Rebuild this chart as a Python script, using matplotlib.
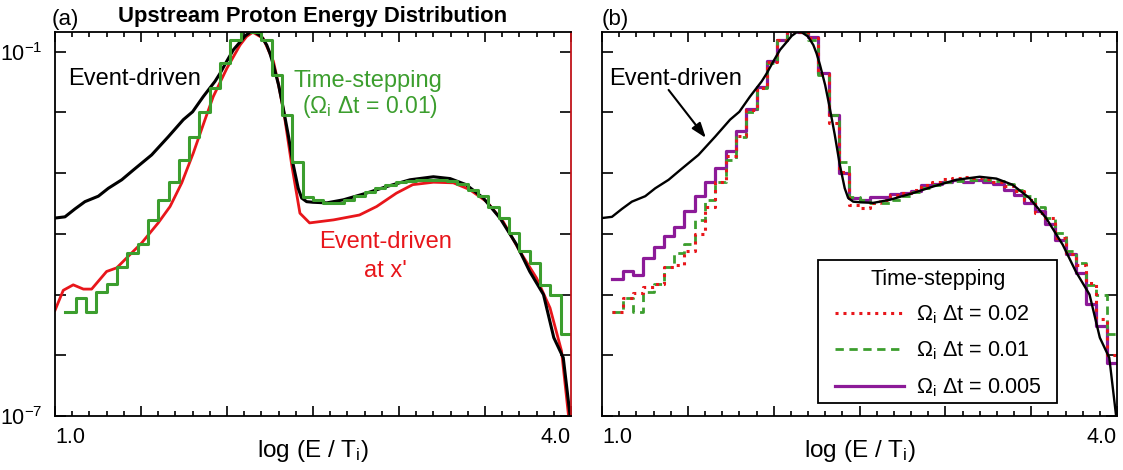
import matplotlib

matplotlib.use("Agg")
import matplotlib.pyplot as plt
import numpy as np
from matplotlib.patches import Rectangle
from matplotlib.ticker import MultipleLocator, NullLocator

plt.rcParams["font.family"] = ["Liberation Sans", "DejaVu Sans"]
plt.rcParams["mathtext.fontset"] = "custom"
plt.rcParams["mathtext.rm"] = "Liberation Sans"
plt.rcParams["mathtext.it"] = "Liberation Sans"
plt.rcParams["mathtext.bf"] = "Liberation Sans:bold"

# event-driven spectrum (black, both panels): log10(E/Ti) and log10(f)
ed_x = [1.0, 1.058, 1.116, 1.174, 1.252, 1.31, 1.388, 1.455, 1.562, 1.659,
        1.746, 1.80, 1.862, 1.90, 1.93, 1.959, 1.998, 2.037, 2.076, 2.105,
        2.134, 2.163, 2.20, 2.231, 2.25, 2.27, 2.30, 2.327, 2.356, 2.385,
        2.414, 2.434, 2.463, 2.50, 2.58, 2.676, 2.81, 2.93, 3.064, 3.20,
        3.297, 3.39, 3.49, 3.587, 3.684, 3.76, 3.84, 3.90, 3.955, 3.994]
ed_logf = [-3.74, -3.72, -3.59, -3.47, -3.38, -3.25, -3.11, -2.95, -2.70, -2.40,
           -2.12, -1.99, -1.74, -1.60, -1.49, -1.36, -1.16, -0.97, -0.84, -0.74,
           -0.68, -0.68, -0.75, -0.89, -1.03, -1.22, -1.55, -1.93, -2.37, -2.86,
           -3.25, -3.41, -3.47, -3.48, -3.49, -3.44, -3.33, -3.22, -3.11, -3.06,
           -3.09, -3.19, -3.41, -3.74, -4.18, -4.62, -5.00, -5.71, -6.04, -6.98]

# event-driven at x' (red, panel a)
edx_x = [1.0, 1.048, 1.106, 1.165, 1.213, 1.30, 1.359, 1.426, 1.504, 1.60,
         1.669, 1.737, 1.804, 1.872, 1.92, 2.0, 2.076, 2.114, 2.15, 2.21,
         2.27, 2.30, 2.33, 2.376, 2.424, 2.48, 2.62, 2.77, 2.87, 2.985,
         3.08, 3.2, 3.316, 3.41, 3.51, 3.606, 3.703, 3.80, 3.878, 3.945, 3.985]
edx_logf = [-5.26, -4.93, -4.84, -4.91, -4.91, -4.62, -4.56, -4.37, -4.15, -3.82,
            -3.55, -3.16, -2.67, -2.12, -1.74, -1.27, -0.89, -0.75, -0.68, -0.78,
            -1.16, -1.55, -1.99, -2.86, -3.66, -3.82, -3.77, -3.69, -3.55, -3.33,
            -3.19, -3.15, -3.16, -3.27, -3.47, -3.80, -4.29, -4.73, -5.22, -5.93, -6.98]

# time-stepping histograms: 50 bins over 1.0-4.0, first bin empty
bin_edges = np.linspace(1.0, 4.0, 51)
ts_010_logf = [-5.29, -5.06, -5.29, -4.96, -4.83, -4.55, -4.32, -4.16, -3.77, -3.44,
               -3.15, -2.78, -2.41, -2.00, -1.60, -1.19, -0.81, -0.66, -0.68, -0.81,
               -1.38, -2.04, -2.81, -3.39, -3.44, -3.49, -3.50, -3.44, -3.37, -3.31,
               -3.25, -3.20, -3.15, -3.13, -3.11, -3.11, -3.12, -3.13, -3.18, -3.28,
               -3.38, -3.55, -3.74, -3.99, -4.29, -4.48, -4.84, -5.01, -5.65]
ts_020_logf = [-5.29, -5.06, -4.97, -4.87, -4.82, -4.55, -4.51, -4.29, -4.00, -3.55,
               -3.14, -2.72, -2.39, -1.96, -1.60, -1.17, -0.80, -0.66, -0.67, -0.78,
               -1.37, -2.18, -2.98, -3.52, -3.57, -3.49, -3.44, -3.36, -3.33, -3.27,
               -3.19, -3.14, -3.09, -3.08, -3.07, -3.08, -3.09, -3.14, -3.22, -3.30,
               -3.44, -3.66, -3.74, -4.07, -4.34, -4.51, -4.81, -5.41, -5.99]
ts_005_logf = [-4.74, -4.62, -4.67, -4.39, -4.22, -4.04, -3.88, -3.63, -3.37, -3.15,
               -2.91, -2.63, -2.30, -1.95, -1.58, -1.15, -0.80, -0.66, -0.67, -0.76,
               -1.35, -2.04, -2.99, -3.41, -3.45, -3.40, -3.40, -3.35, -3.33, -3.29,
               -3.20, -3.18, -3.14, -3.11, -3.15, -3.11, -3.14, -3.18, -3.28, -3.36,
               -3.49, -3.63, -3.84, -4.10, -4.34, -4.65, -5.15, -5.52, -6.12]

GREEN = "#3c9e2e"
RED = "#e8161b"
PURPLE = "#8c1a98"
FS = 17


def pw(logs):
    return np.power(10.0, np.asarray(logs))


def step(ax, logs, **kw):
    y = pw(logs)
    ax.step(bin_edges[1:], np.append(y, y[-1]), where="post", **kw)


def style_axes(ax, ylabels=True):
    ax.set_xlim(1.0, 4.0)
    ax.set_yscale("log")
    ax.set_ylim(1e-7, 10 ** -0.676)
    ax.set_xticks(np.arange(1.0, 4.01, 0.5))
    ax.set_xticklabels(["1.0", "", "", "", "", "", "4.0"])
    ax.xaxis.set_minor_locator(MultipleLocator(0.1))
    ax.set_yticks([1e-7, 1e-6, 1e-5, 1e-4, 1e-3, 1e-2, 1e-1])
    if ylabels:
        ax.set_yticklabels(["10$^{-7}$", "", "", "", "", "", "10$^{-1}$"])
    else:
        ax.set_yticklabels([])
    ax.yaxis.set_minor_locator(NullLocator())
    ax.tick_params(which="both", direction="in", top=True, right=True,
                   labelsize=15.5, width=1.2, colors="black")
    ax.tick_params(axis="x", which="major", length=7, pad=8)
    ax.tick_params(axis="x", which="minor", length=3.5)
    ax.tick_params(axis="y", which="major", length=8, pad=9)
    xl = ax.get_xticklabels()
    xl[0].set_ha("left")
    xl[-1].set_ha("right")
    for sp in ax.spines.values():
        sp.set_linewidth(1.3)
    ax.text(0.5, -0.107, "log (E / T$_\\mathregular{i}$)", transform=ax.transAxes,
            fontsize=17.5, ha="center", va="baseline")


fig = plt.figure(figsize=(11.23, 4.70), dpi=100)
ax_a = fig.add_axes([55 / 1123, 54 / 470, 516 / 1123, 384 / 470])
ax_b = fig.add_axes([602 / 1123, 54 / 470, 515 / 1123, 384 / 470])

# panel (a)
ax_a.plot(edx_x, pw(edx_logf), color=RED, lw=2.0)
ax_a.plot(ed_x, pw(ed_logf), color="black", lw=2.2)
step(ax_a, ts_010_logf, color=GREEN, lw=2.2)
style_axes(ax_a)
ax_a.spines["right"].set_color("#c0141a")
ax_a.set_title("Upstream Proton Energy Distribution", fontsize=15.8,
               fontweight="bold", pad=7)
ax_a.text(-0.006, 1.018, "(a)", transform=ax_a.transAxes, fontsize=16,
          ha="left", va="baseline")
ax_a.text(0.025, 0.862, "Event-driven", transform=ax_a.transAxes, fontsize=FS,
          ha="left", va="baseline")
ax_a.text(0.6056, 0.8576, "Time-stepping", transform=ax_a.transAxes,
          fontsize=FS, color=GREEN, ha="center", va="baseline")
ax_a.text(0.610, 0.788, "(Ω$_\\mathregular{i}$ Δt = 0.01)",
          transform=ax_a.transAxes, fontsize=16.5, color=GREEN,
          ha="center", va="baseline")
ax_a.text(0.641, 0.4367, "Event-driven", transform=ax_a.transAxes,
          fontsize=FS, color=RED, ha="center", va="baseline")
ax_a.text(0.640, 0.3628, "at x'", transform=ax_a.transAxes,
          fontsize=FS, color=RED, ha="center", va="baseline")

# panel (b)
step(ax_b, ts_005_logf, color=PURPLE, lw=2.3,
     label="Ω$_\\mathregular{i}$ Δt = 0.005")
step(ax_b, ts_010_logf, color=GREEN, lw=2.0, ls=(0, (3, 2)),
     label="Ω$_\\mathregular{i}$ Δt = 0.01")
step(ax_b, ts_020_logf, color=RED, lw=2.2, ls=(0, (1, 1.6)),
     label="Ω$_\\mathregular{i}$ Δt = 0.02")
ax_b.plot(ed_x, pw(ed_logf), color="black", lw=1.7)
style_axes(ax_b, ylabels=False)
ax_b.text(0.0, 1.018, "(b)", transform=ax_b.transAxes, fontsize=16,
          ha="left", va="baseline")
ax_b.text(0.0136, 0.862, "Event-driven", transform=ax_b.transAxes,
          fontsize=FS, ha="left", va="baseline")
ax_b.annotate("", xy=(1.605, 10 ** -2.42), xytext=(1.388, 10 ** -1.63),
              arrowprops=dict(arrowstyle="-|>,head_length=0.9,head_width=0.32",
                              color="black", lw=1.5, shrinkA=0, shrinkB=0))

# legend box drawn separately so the entries can sit with a wider left margin
ax_b.add_patch(Rectangle((0.419, 0.034), 0.4645, 0.372, transform=ax_b.transAxes,
                         facecolor="white", edgecolor="black", lw=1.3, zorder=4))
handles, labels = ax_b.get_legend_handles_labels()
leg = ax_b.legend(handles[::-1], labels[::-1], title="Time-stepping",
                  loc="upper left", bbox_to_anchor=(0.4524, 0.384),
                  borderaxespad=0, borderpad=0, fontsize=15.5,
                  title_fontsize=15.5, handlelength=3.2, handletextpad=0.55,
                  labelspacing=0.64, frameon=False)
leg.set_zorder(5)

fig.savefig("out.png", dpi=100)
